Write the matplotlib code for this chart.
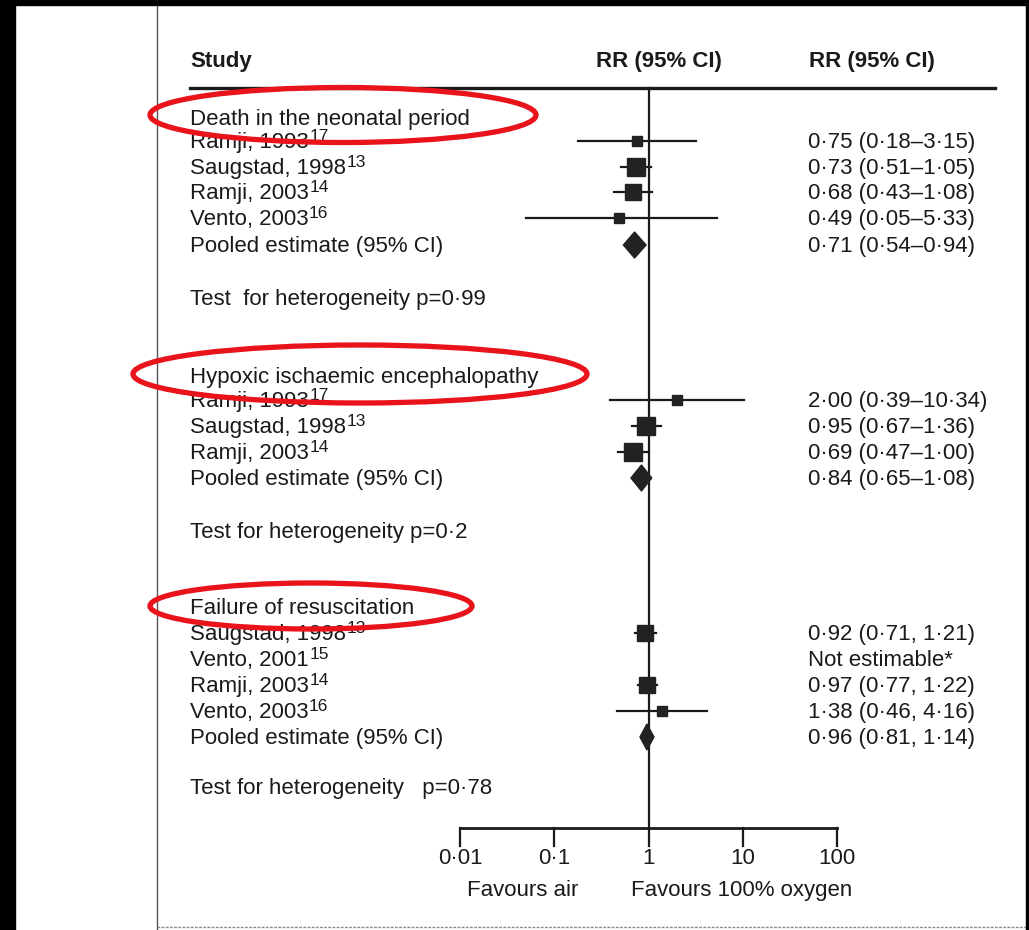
import matplotlib
matplotlib.use("Agg")
import matplotlib.pyplot as plt
from matplotlib.patches import Ellipse, Rectangle, Polygon

plt.rcParams["font.family"] = ["Liberation Sans", "DejaVu Sans"]

# ---- data ----
death_studies = ["Ramji, 1993", "Saugstad, 1998", "Ramji, 2003", "Vento, 2003"]
death_refs = ["17", "13", "14", "16"]
death_rr = [0.75, 0.73, 0.68, 0.49]
death_lo = [0.18, 0.51, 0.43, 0.05]
death_hi = [3.15, 1.05, 1.08, 5.33]
death_pooled = [0.71, 0.54, 0.94]
death_het = "Test  for heterogeneity p=0·99"

hie_studies = ["Ramji, 1993", "Saugstad, 1998", "Ramji, 2003"]
hie_refs = ["17", "13", "14"]
hie_rr = [2.00, 0.95, 0.69]
hie_lo = [0.39, 0.67, 0.47]
hie_hi = [10.34, 1.36, 1.00]
hie_pooled = [0.84, 0.65, 1.08]
hie_het = "Test for heterogeneity p=0·2"

fail_studies = ["Saugstad, 1998", "Vento, 2001", "Ramji, 2003", "Vento, 2003"]
fail_refs = ["13", "15", "14", "16"]
fail_rr = [0.92, None, 0.97, 1.38]
fail_lo = [0.71, None, 0.77, 0.46]
fail_hi = [1.21, None, 1.22, 4.16]
fail_pooled = [0.96, 0.81, 1.14]
fail_het = "Test for heterogeneity   p=0·78"

section_titles = ["Death in the neonatal period", "Hypoxic ischaemic encephalopathy", "Failure of resuscitation"]
tick_values = [0.01, 0.1, 1, 10, 100]
tick_labels = ["0·01", "0·1", "1", "10", "100"]

# ---- layout (pixel rows, marker sizes) ----
W, H = 1029, 930
layout = [
    dict(head=118, rows=[141, 167, 192, 218], pooled=245, het=298, ms=[7, 13, 11.5, 6.5], sep="–"),
    dict(head=376, rows=[400, 426, 452], pooled=478, het=531, ms=[6.5, 12.5, 12.5], sep="–"),
    dict(head=607, rows=[633, 659, 685, 711], pooled=737, het=787, ms=[12, 0, 12, 7], sep=", "),
]
sections = [
    (death_studies, death_refs, death_rr, death_lo, death_hi, death_pooled, death_het),
    (hie_studies, hie_refs, hie_rr, hie_lo, hie_hi, hie_pooled, hie_het),
    (fail_studies, fail_refs, fail_rr, fail_lo, fail_hi, fail_pooled, fail_het),
]

def fmt(v):
    return f"{v:.2f}".replace(".", "·")

fig = plt.figure(figsize=(W / 100, H / 100), dpi=100)
fig.patch.set_facecolor("white")
ax = fig.add_axes([0, 0, 1, 1])
ax.set_xscale("log")
# 0.01 sits at x=460 px, one decade is ~94.3 px
dec = 94.3
ax.set_xlim(10 ** (-2 - 460 / dec), 10 ** (-2 + (W - 460) / dec))
ax.set_ylim(H, 0)
ax.axis("off")
tr = ax.get_yaxis_transform()   # x: fraction of width, y: pixel row
FS = 16
ink = "#1a1a1a"

def px(x):
    return x / W

# scan border / frame
fig.patches.append(Rectangle((0, 0), px(15), 1, transform=fig.transFigure, color="black", zorder=0))
fig.patches.append(Rectangle((0, 1 - 5 / H), 1, 5 / H, transform=fig.transFigure, color="black", zorder=0))
fig.patches.append(Rectangle((px(1026), 0), px(3), 1, transform=fig.transFigure, color="black", zorder=0))
ax.plot([px(157), px(157)], [6, 929], transform=tr, color="#555555", lw=1)
ax.plot([px(157), px(1026)], [927, 927], transform=tr, color="#888888", lw=1, ls=(0, (2, 1)))

# header
ax.text(px(190), 62, "Study", transform=tr, fontsize=FS, fontweight="bold", va="center", color=ink)
ax.text(px(659), 62, "RR (95% CI)", transform=tr, fontsize=FS, fontweight="bold", va="center", ha="center", color=ink)
ax.text(px(872), 62, "RR (95% CI)", transform=tr, fontsize=FS, fontweight="bold", va="center", ha="center", color=ink)
ax.plot([px(190), px(995)], [88, 88], transform=tr, color=ink, lw=2.4)

# line of no effect
ax.plot([1, 1], [88, 828], color=ink, lw=1.6, zorder=2)

for title, lay, (studies, refs, rr, lo, hi, pooled, het) in zip(section_titles, layout, sections):
    ax.text(px(190), lay["head"] + 7, title, transform=tr, fontsize=FS, va="baseline", color=ink)
    for name, ref, y, r, l, h, ms in zip(studies, refs, lay["rows"], rr, lo, hi, lay["ms"]):
        t = ax.text(px(190), y + 7, name, transform=tr, fontsize=FS, va="baseline", color=ink)
        ax.annotate(ref, xy=(1, 0), xycoords=t, xytext=(0.3, 17.5), textcoords="offset points",
                    fontsize=12.5, va="top", ha="left", color=ink)
        if r is None:
            ax.text(px(808), y + 7, "Not estimable*", transform=tr, fontsize=FS, va="baseline", color=ink)
            continue
        ax.plot([l, h], [y, y], color=ink, lw=1.6, zorder=3)
        ax.plot([r], [y], marker="s", ms=ms, color="#222222", zorder=4)
        ax.text(px(808), y + 7, f"{fmt(r)} ({fmt(l)}{lay['sep']}{fmt(h)})", transform=tr,
                fontsize=FS, va="baseline", color=ink)
    p, pl, ph = pooled
    yp = lay["pooled"]
    ax.add_patch(Polygon([(pl, yp), (p, yp - 13), (ph, yp), (p, yp + 13)], closed=True,
                         facecolor="#222222", edgecolor="#222222", zorder=4))
    ax.text(px(190), yp + 7, "Pooled estimate (95% CI)", transform=tr, fontsize=FS, va="baseline", color=ink)
    ax.text(px(808), yp + 7, f"{fmt(p)} ({fmt(pl)}{lay['sep']}{fmt(ph)})", transform=tr,
            fontsize=FS, va="baseline", color=ink)
    ax.text(px(190), lay["het"] + 7, het, transform=tr, fontsize=FS, va="baseline", color=ink)

# x axis
ax.plot([tick_values[0], tick_values[-1]], [828, 828], color=ink, lw=2)
for t, lab in zip(tick_values, tick_labels):
    ax.plot([t, t], [828, 846], color=ink, lw=1.6)
    ax.text(t, 858, lab, fontsize=FS, ha="center", va="center", color=ink)
ax.text(px(578), 890, "Favours air", transform=tr, fontsize=FS, ha="right", va="center", color=ink)
ax.text(px(631), 890, "Favours 100% oxygen", transform=tr, fontsize=FS, ha="left", va="center", color=ink)

# red annotation ellipses
for cx, cy, w, h in [(343, 115, 386, 55), (360, 374, 454, 58), (311, 606, 322, 46)]:
    fig.patches.append(Ellipse((px(cx), 1 - cy / H), px(w), h / H, transform=fig.transFigure,
                               fill=False, edgecolor="#e8131b", lw=3.8, zorder=10))

fig.savefig("out.png", dpi=100, facecolor="white")
